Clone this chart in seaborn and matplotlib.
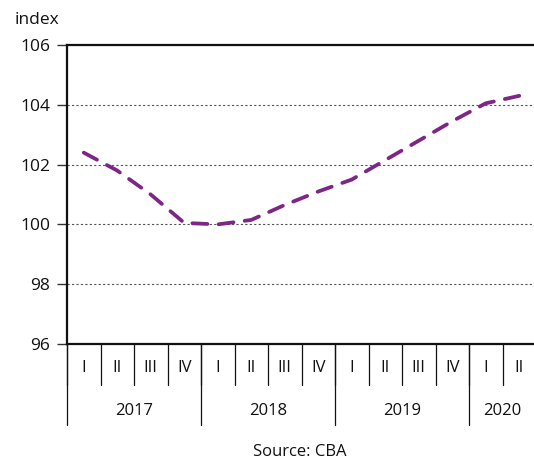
import numpy as np
import matplotlib
matplotlib.use("Agg")
import matplotlib.pyplot as plt
import matplotlib.transforms as mtransforms
import seaborn as sns

# data
quarters = ["I", "II", "III", "IV", "I", "II", "III", "IV",
            "I", "II", "III", "IV", "I", "II"]
years = ["2017", "2018", "2019", "2020"]
quarters_per_year = [4, 4, 4, 2]
index_values = [102.4, 101.8, 101.0, 100.05, 100.0, 100.15, 100.65, 101.1,
                101.5, 102.15, 102.8, 103.45, 104.05, 104.3]
y_ticks = [96, 98, 100, 102, 104, 106]

sns.set_theme(style="white")
plt.rcParams["font.family"] = ["Open Sans", "DejaVu Sans"]

fig = plt.figure(figsize=(5.34, 4.61), dpi=100)
ax = fig.add_axes([67 / 534, 1 - 344 / 461, 469 / 534, 299 / 461])

x = np.arange(len(index_values))
sns.lineplot(x=x, y=index_values, ax=ax, color="#7e2686", linewidth=2.7,
             dashes=False)
line = ax.get_lines()[0]
line.set_dashes((4, 3))
line.set_dash_capstyle("round")

ax.set_xlim(-0.5, len(index_values) - 0.5)
ax.set_ylim(96, 106)
ax.set_yticks(y_ticks)
ax.set_yticklabels([str(t) for t in y_ticks], fontsize=12.5, color="#111111")
ax.tick_params(axis="y", length=7, width=1, color="#333333", pad=5, left=True)
ax.set_xticks([])
for v in [98, 100, 102, 104]:
    ax.axhline(v, color="#555555", linestyle=(0, (2, 2)), linewidth=0.8, zorder=0)

for side in ["left", "top", "bottom"]:
    ax.spines[side].set_color("#111111")
    ax.spines[side].set_linewidth(1.6)
ax.spines["right"].set_visible(False)

# category axis: quarter row and year row
trans = mtransforms.blended_transform_factory(ax.transData, ax.transAxes)
q_bottom = -41 / 299
y_bottom = -81 / 299
for i, q in enumerate(quarters):
    ax.text(i, -24 / 299, q, transform=trans, ha="center", va="center",
            fontsize=12, color="#111111")
    ax.plot([i - 0.5, i - 0.5], [0, q_bottom], transform=trans, color="#111111",
            linewidth=0.9, clip_on=False)
start = 0
for yr, n in zip(years, quarters_per_year):
    ax.plot([start - 0.5, start - 0.5], [0, y_bottom], transform=trans,
            color="#111111", linewidth=0.9, clip_on=False)
    ax.text(start + n / 2 - 0.5, -67 / 299, yr, transform=trans, ha="center",
            va="center", fontsize=12, color="#111111")
    start += n

fig.text(15 / 534, 1 - 20 / 461, "index", ha="left", va="center",
         fontsize=12.5, color="#111111")
fig.text(300 / 534, 1 - 452 / 461, "Source: CBA", ha="center", va="center",
         fontsize=12, color="#111111")

fig.savefig("out.png", dpi=100)
